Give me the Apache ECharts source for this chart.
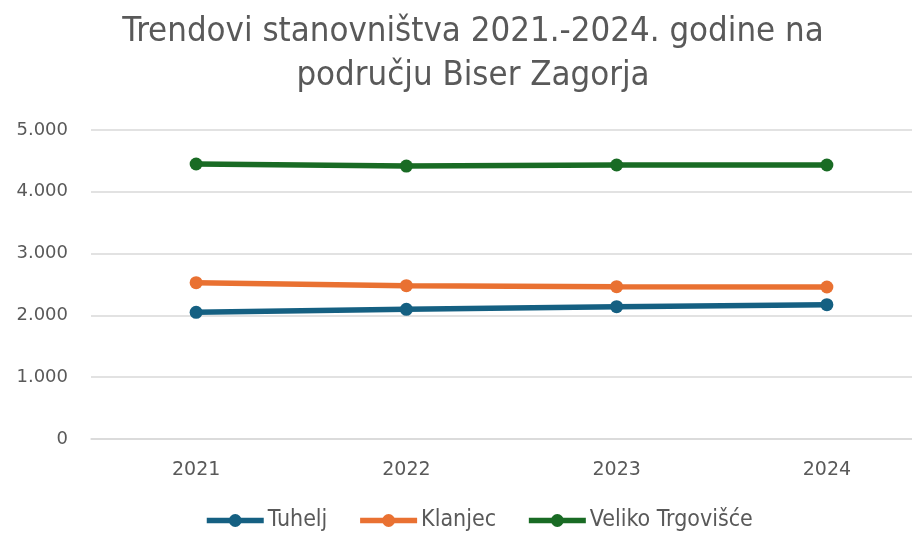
<!DOCTYPE html>
<html>
<head>
<meta charset="utf-8">
<script src="https://cdn.jsdelivr.net/npm/echarts@6/dist/echarts.min.js"></script>
<style>html,body{margin:0;padding:0;background:#fff}#c{width:912px;height:533px}</style>
</head>
<body>
<div id="c"></div>
<script>
const categories = ['2021', '2022', '2023', '2024'];
const tuhelj = [2050, 2098, 2141, 2173];
const klanjec = [2529, 2481, 2465, 2460];
const velikoTrgovisce = [4450, 4417, 4434, 4434];
const seriesNames = ['Tuhelj', 'Klanjec', 'Veliko Trgovišće'];
const yTicks = [0, 1000, 2000, 3000, 4000, 5000];
const titleText = 'Trendovi stanovništva 2021.-2024. godine na\npodručju Biser Zagorja';

const colors = ['#156082', '#E97132', '#196B24'];
const narrow = 'Liberation Sans Narrow, DejaVu Sans Condensed, sans-serif';
const chart = echarts.init(document.getElementById('c'), null, {renderer: 'canvas'});
const mk = (name, data, color) => ({
  name, type: 'line', data, color,
  symbol: 'circle', symbolSize: 13,
  lineStyle: {width: 5.5, color},
  itemStyle: {color},
  emphasis: {disabled: true}
});
chart.setOption({
  animation: false,
  title: {
    text: titleText,
    left: 473, top: 10, textAlign: 'center', padding: 0,
    textStyle: {fontFamily: narrow, fontSize: 34.5, fontWeight: 'normal', color: '#595959', lineHeight: 44}
  },
  legend: {
    data: seriesNames,
    left: 204, top: 509, padding: 0,
    itemWidth: 57, itemHeight: 16, itemGap: 30,
    lineStyle: {width: 5.5},
    textStyle: {fontFamily: narrow, fontSize: 23, color: '#595959', padding: [0, 0, 0, -1]}
  },
  grid: {left: 91, width: 841, top: 130, height: 309, outerBoundsMode: 'none', containLabel: false},
  xAxis: {
    type: 'category', data: categories, boundaryGap: true,
    axisLine: {lineStyle: {color: '#d9d9d9', width: 1.5}},
    axisTick: {show: false},
    axisLabel: {fontFamily: 'DejaVu Sans, sans-serif', fontSize: 19, color: '#595959', margin: 22}
  },
  yAxis: {
    type: 'value', min: yTicks[0], max: yTicks[yTicks.length - 1], interval: yTicks[1] - yTicks[0],
    axisLine: {show: false}, axisTick: {show: false},
    splitLine: {lineStyle: {color: '#d9d9d9', width: 1.5}},
    axisLabel: {fontFamily: 'DejaVu Sans, sans-serif', fontSize: 18, color: '#595959', margin: 23,
      formatter: v => String(v).replace(/\B(?=(\d{3})+(?!\d))/g, '.')}
  },
  series: [
    mk(seriesNames[0], tuhelj, colors[0]),
    mk(seriesNames[1], klanjec, colors[1]),
    mk(seriesNames[2], velikoTrgovisce, colors[2])
  ]
});
</script>
</body>
</html>
